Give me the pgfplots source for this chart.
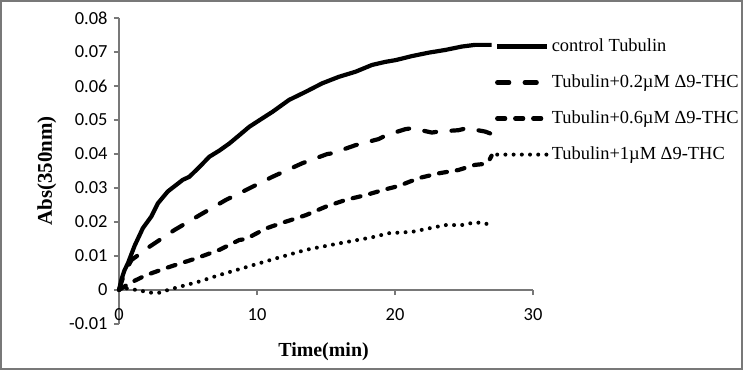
\documentclass[border=0pt]{standalone}
\usepackage{pgfplots}
\pgfplotsset{compat=1.18}
\usepackage{fontspec}
\setmainfont{Liberation Serif}
\newfontfamily\carlito{Carlito}
\definecolor{axgray}{RGB}{120,120,120}
\begin{document}
\begin{tikzpicture}
\useasboundingbox (-119bp,-55bp) rectangle (625bp,324bp);
\begin{axis}[
  scale only axis,
  width=414bp, height=306bp,
  xmin=0, xmax=30, ymin=-0.01, ymax=0.08,
  enlargelimits=false,
  scaled y ticks=false, scaled x ticks=false,
  axis lines=middle,
  axis line style={-, axgray, line width=1.2bp},
  tick style={axgray, line width=1.2bp},
  tick align=outside,
  major tick length=5bp,
  hide obscured x ticks=false,
  hide obscured y ticks=false,
  xtick={0,10,20,30},
  xticklabels={0,10,20,30},
  ytick={-0.01,0,0.01,0.02,0.03,0.04,0.05,0.06,0.07,0.08},
  yticklabels={-0.01,0,0.01,0.02,0.03,0.04,0.05,0.06,0.07,0.08},
  ticklabel style={font=\carlito\fontsize{18.5}{20}\selectfont},
  xticklabel style={yshift=-10bp},
  yticklabel style={xshift=-3bp},
  xlabel={\textbf{Time(min)}},
  ylabel={\textbf{Abs(350nm)}},
  xlabel style={at={(axis description cs:0.494,-0.092)}, anchor=center, font=\fontsize{20}{22}\selectfont},
  ylabel style={at={(axis description cs:-0.174,0.5)}, anchor=center, rotate=90, font=\fontsize{21}{23}\selectfont},
  legend style={draw=none, fill=none, at={(axis description cs:0.908,0.935)}, anchor=north west,
    inner sep=0pt, font=\fontsize{18.5}{20}\selectfont, row sep=19bp,
    nodes={text height=13bp, text depth=4bp, inner ysep=0pt, inner xsep=2.5bp}},
  legend cell align=left,
  legend image code/.code={\draw[#1] (0bp,0bp) -- (50bp,0bp);},
  clip=false,
]
\addplot[black, line width=4.2bp, line join=round] coordinates {
(0,0) (0.17,0.003) (0.4,0.0058) (0.65,0.0079) (1.13,0.013) (1.73,0.0182) (2.34,0.0216)
(2.82,0.0255) (3.54,0.029) (4.62,0.0324) (5.1,0.0333) (5.83,0.0362) (6.55,0.0392) (7.27,0.0410)
(8.0,0.0431) (8.71,0.0455) (9.44,0.048) (10.2,0.0500) (11.12,0.0524) (12.32,0.0559) (13.53,0.0583)
(14.73,0.0608) (15.93,0.0627) (17.14,0.0642) (18.34,0.0662) (19.3,0.0671) (20.03,0.0676)
(21.23,0.0688) (22.43,0.0698) (23.64,0.0706) (24.84,0.0716) (25.8,0.0721) (27,0.0721)
};
\addlegendentry{control Tubulin}
\addplot[black, line width=4.2bp, line cap=round, line join=round, dash pattern=on 12bp off 15.5bp] coordinates {
(0,0) (0.4,0.005) (0.9,0.0088) (2.2,0.0127) (4.0,0.0176) (5.83,0.022) (7.75,0.0265) (9.2,0.0294)
(11.12,0.0333) (13.29,0.0373) (15.1,0.040) (15.45,0.0402) (17.14,0.0426) (18.82,0.0444)
(19.4,0.0456) (20.75,0.0473) (21.23,0.0476) (22.67,0.0463) (23.15,0.0466) (24.6,0.047)
(25.2,0.0476) (26.53,0.0466) (27,0.0459)
};
\addlegendentry{Tubulin+0.2µM Δ9-THC}
\addplot[black, line width=4.2bp, line cap=round, line join=round, dash pattern=on 8bp off 10bp] coordinates {
(0,0) (0.77,0.002) (1.98,0.0044) (3.66,0.0068) (5.59,0.0093) (7.27,0.0118) (8.71,0.0147)
(9.2,0.015) (10.64,0.0181) (12.09,0.0201) (13.53,0.022) (14.98,0.0245) (16.42,0.0265)
(17.86,0.0279) (19.3,0.0296) (20.27,0.0306) (21.71,0.0329) (23.15,0.0343) (24.6,0.0353)
(25.8,0.0368) (26.53,0.0371) (26.77,0.0377) (27,0.0395)
};
\addlegendentry{Tubulin+0.6µM Δ9-THC}
\addplot[black, line width=4bp, line cap=round, dash pattern=on 0bp off 8.2bp] coordinates {
(0,0) (0.4,0.0006) (1.26,0) (2.34,-0.0008) (2.94,-0.0008) (3.54,0) (4.62,0.0012) (5.83,0.0025)
(7.27,0.0044) (8.95,0.0064) (11.12,0.009) (13.53,0.0118) (15.93,0.0137) (18.34,0.0155)
(19.55,0.0167) (21.23,0.0171) (22.43,0.0181) (23.64,0.0191) (24.84,0.0191) (25.68,0.0198)
(26.28,0.0198) (27,0.0191)
};
\addlegendentry{Tubulin+1µM Δ9-THC}
\end{axis}
\draw[axgray, line width=1.3bp] (-118bp,-45bp) rectangle (623bp,323bp);
\end{tikzpicture}
\end{document}
